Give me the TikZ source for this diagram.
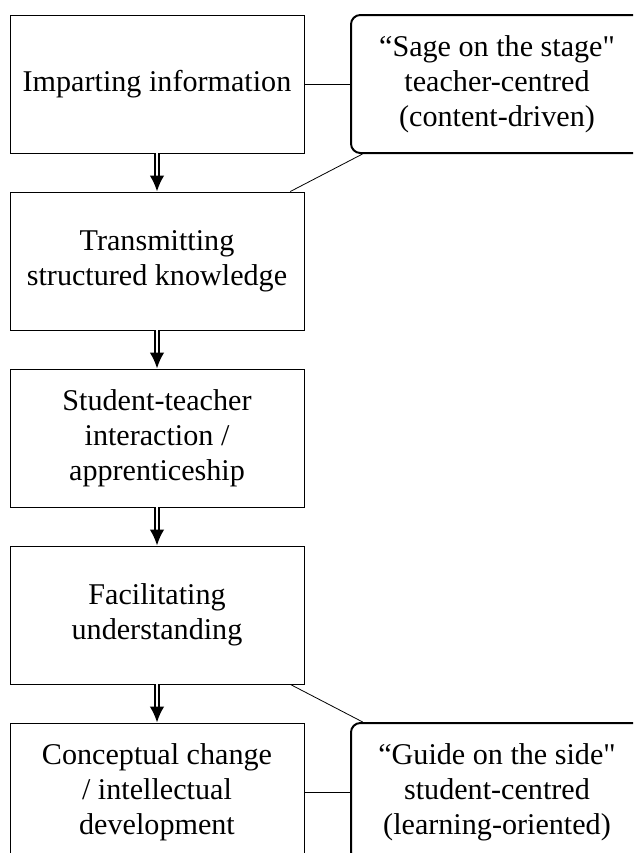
\documentclass[tikz,border=0pt]{standalone}
\usepackage{fontspec}
\setmainfont{Liberation Serif}
\newfontfamily\plainq{Liberation Serif}
\usetikzlibrary{arrows.meta}

\tikzset{
  stage/.style={draw, line width=0.7pt, minimum width=220.5pt, minimum height=103.5pt,
    inner sep=0.75pt, align=center, font=\fontsize{22.6pt}{26.25pt}\selectfont},
  role/.style={stage, line width=1.5pt, rounded corners=7pt, minimum width=219pt},
  leads/.style={double, double distance=1.1pt, line width=1.5pt, -{Latex[length=12pt,width=11pt]}},
  tie/.style={line width=0.6pt}
}

\begin{document}
\begin{tikzpicture}[x=0.75pt,y=0.75pt,yscale=-1,xscale=1]
%set diagram frame 633 x 853
\path [use as bounding box, clip] (0,0) rectangle (633,853);

% Text Node
\node [stage] (imp) at (157,84) {Imparting information};
% Text Node
\node [stage] (trans) at (157,261) {Transmitting\\structured knowledge};
% Text Node
\node [stage] (inter) at (157,438) {Student-teacher\\interaction /\\apprenticeship};
% Text Node
\node [stage] (fac) at (157,615) {Facilitating\\understanding};
% Text Node
\node [stage] (concept) at (157,792) {Conceptual change\\/ intellectual\\development};
% Text Node
\node [role] (sage) at (497,84) {“Sage on the stage{\plainq"}\\teacher-centred\\(content-driven)};
% Text Node
\node [role] (guide) at (497,792) {“Guide on the side{\plainq"}\\student-centred\\(learning-oriented)};

%Straight Lines
\draw [leads] (imp.south) -- (trans.north);
\draw [leads] (trans.south) -- (inter.north);
\draw [leads] (inter.south) -- (fac.north);
\draw [leads] (fac.south) -- (concept.north);
%Straight Lines
\draw [tie] (imp) -- (sage);
\draw [tie] (sage) -- (trans);
\draw [tie] (fac) -- (guide);
\draw [tie] (concept) -- (guide);

\end{tikzpicture}
\end{document}
